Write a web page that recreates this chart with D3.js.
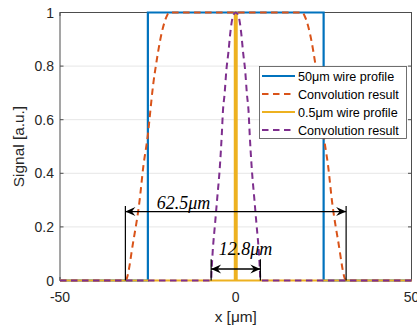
<!DOCTYPE html>
<html>
<head>
<meta charset="utf-8">
<script src="https://cdn.jsdelivr.net/npm/d3@7"></script>
<style>
  html, body { margin: 0; padding: 0; background: #fff; }
  svg { display: block; }
</style>
</head>
<body>
<svg id="chart" width="417" height="329"></svg>
<script>
// ---- data ----
const xTicks = [-50, 0, 50];
const yTicks = [0, 0.2, 0.4, 0.6, 0.8, 1];
const yTickLabels = ["0", "0.2", "0.4", "0.6", "0.8", "1"];
const xTickLabels = ["-50", "0", "50"];

const wire50X = [-50, -25, -25, 25, 25, 50];
const wire50Y = [0, 0, 1, 1, 0, 0];

const conv50X = [-50, -31.4, -29.1, -27.4, -26.3, -24.9, -24.4, -23.5, -22.5, -21.6, -19.5, -19.0,
                 19.0, 19.5, 21.6, 22.5, 23.5, 24.4, 24.9, 26.3, 27.4, 29.1, 31.4, 50];
const conv50Y = [0, 0, 0.15, 0.294, 0.425, 0.555, 0.62, 0.73, 0.82, 0.89, 0.99, 1,
                 1, 0.99, 0.89, 0.82, 0.73, 0.62, 0.555, 0.425, 0.294, 0.15, 0, 0];

const wire05X = [-50, -0.25, -0.25, 0.25, 0.25, 50];
const wire05Y = [0, 0, 1, 1, 0, 0];

const conv05X = [-50, -7.0, -6.9, -6.55, -5.9, -5.25, -4.6, -4.25, -3.95, -3.65, -3.15, -2.7, -2.1, -1.5, -0.7, 0,
                 0.7, 1.5, 2.1, 2.7, 3.15, 3.65, 3.95, 4.25, 4.6, 5.25, 5.9, 6.55, 6.9, 7.0, 50];
const conv05Y = [0, 0, 0.03, 0.11, 0.21, 0.31, 0.41, 0.48, 0.55, 0.63, 0.70, 0.78, 0.85, 0.93, 0.99, 1,
                 0.99, 0.93, 0.85, 0.78, 0.70, 0.63, 0.55, 0.48, 0.41, 0.31, 0.21, 0.11, 0.03, 0, 0];

const seriesNames = ["50\u03bcm wire profile", "Convolution result", "0.5\u03bcm wire profile", "Convolution result"];

// annotation arrows (data coords)
const wideArrowX = [-31.4, 31.4];
const wideArrowY = 0.257;
const wideBarTop = 0.278;
const wideLabel = "62.5\u03bcm";
const narrowArrowX = [-7.0, 7.0];
const narrowArrowY = 0.043;
const narrowBarTop = 0.079;
const narrowLabel = "12.8\u03bcm";

// ---- layout ----
const svg = d3.select("#chart");
const L = 60, R = 411.5, T = 12.5, B = 280.5;
const x = d3.scaleLinear().domain([-50, 50]).range([L, R]);
const y = d3.scaleLinear().domain([0, 1]).range([B, T]);
const txt = "#262626";
const sans = "'Liberation Sans', Arial, Helvetica, sans-serif";

// grid
const g = svg.append("g");
g.selectAll("line.gy").data(yTicks.slice(1, -1)).enter().append("line")
  .attr("x1", L).attr("x2", R).attr("y1", d => y(d)).attr("y2", d => y(d))
  .attr("stroke", "#e6e6e6").attr("stroke-width", 1);
g.selectAll("line.gx").data(xTicks.slice(1, -1)).enter().append("line")
  .attr("y1", T).attr("y2", B).attr("x1", d => x(d)).attr("x2", d => x(d))
  .attr("stroke", "#e6e6e6").attr("stroke-width", 1);

// axes box (behind data)
const ax = svg.append("g");
ax.append("rect").attr("x", L).attr("y", T).attr("width", R - L).attr("height", B - T)
  .attr("fill", "none").attr("stroke", "#4d4d4d").attr("stroke-width", 1);
yTicks.forEach(v => {
  ax.append("line").attr("x1", L).attr("x2", L + 3.5).attr("y1", y(v)).attr("y2", y(v)).attr("stroke", "#4d4d4d");
  ax.append("line").attr("x1", R).attr("x2", R - 3.5).attr("y1", y(v)).attr("y2", y(v)).attr("stroke", "#4d4d4d");
});
xTicks.forEach(v => {
  ax.append("line").attr("x1", x(v)).attr("x2", x(v)).attr("y1", B).attr("y2", B - 3.5).attr("stroke", "#4d4d4d");
  ax.append("line").attr("x1", x(v)).attr("x2", x(v)).attr("y1", T).attr("y2", T + 3.5).attr("stroke", "#4d4d4d");
});

// series
const lineLinear = d3.line().x(d => x(d[0])).y(d => y(d[1]));
const lineSmooth = d3.line().x(d => x(d[0])).y(d => y(d[1])).curve(d3.curveMonotoneX);
const zip = (a, b) => a.map((v, i) => [v, b[i]]);

const colors = ["#0072BD", "#D95319", "#EDB120", "#7E2F8E"];
const dashes = [null, "6.5,4.5", null, "6.5,4.5"];

const plot = svg.append("g");
plot.append("path").attr("d", lineLinear(zip(wire50X, wire50Y)))
  .attr("fill", "none").attr("stroke", colors[0]).attr("stroke-width", 2.2).attr("stroke-linejoin", "miter");
plot.append("path").attr("d", lineSmooth(zip(conv50X, conv50Y)))
  .attr("fill", "none").attr("stroke", colors[1]).attr("stroke-width", 2).attr("stroke-dasharray", dashes[1]);
plot.append("path").attr("d", lineLinear(zip(wire05X, wire05Y)))
  .attr("fill", "none").attr("stroke", colors[2]).attr("stroke-width", 2.2);
plot.append("path").attr("d", lineSmooth(zip(conv05X, conv05Y)))
  .attr("fill", "none").attr("stroke", colors[3]).attr("stroke-width", 2).attr("stroke-dasharray", dashes[3]);

// tick labels
ax.selectAll("text.yt").data(yTicks).enter().append("text")
  .attr("x", L - 6).attr("y", d => y(d)).attr("dy", "0.36em")
  .attr("text-anchor", "end").attr("font-family", sans).attr("font-size", 14).attr("fill", txt)
  .text((d, i) => yTickLabels[i]);
ax.selectAll("text.xt").data(xTicks).enter().append("text")
  .attr("x", d => x(d)).attr("y", 301.5)
  .attr("text-anchor", "middle").attr("font-family", sans).attr("font-size", 14).attr("fill", txt)
  .text((d, i) => xTickLabels[i]);

// axis titles
svg.append("text").attr("x", (L + R) / 2).attr("y", 321.5).attr("text-anchor", "middle")
  .attr("font-family", sans).attr("font-size", 15.4).attr("fill", txt).text("x [\u03bcm]");
svg.append("text").attr("transform", `translate(24,${(T + B) / 2}) rotate(-90)`).attr("text-anchor", "middle")
  .attr("font-family", sans).attr("font-size", 15.4).attr("fill", txt).text("Signal [a.u.]");

// annotations
const ann = svg.append("g");
const defs = svg.append("defs");
defs.append("marker").attr("id", "head").attr("viewBox", "-11 -6 12 12")
  .attr("refX", 0).attr("refY", 0).attr("markerWidth", 12).attr("markerHeight", 12)
  .attr("markerUnits", "userSpaceOnUse").attr("orient", "auto-start-reverse")
  .append("path").attr("d", "M0,0 L-10,-4.5 L-6.5,0 L-10,4.5 Z").attr("fill", "#000");

function dimension(xs, yArrow, yTop, label, labelX, labelY) {
  xs.forEach(v => {
    ann.append("line").attr("x1", x(v)).attr("x2", x(v)).attr("y1", y(0)).attr("y2", y(yTop))
      .attr("stroke", "#000").attr("stroke-width", 1.2);
  });
  ann.append("line").attr("x1", x(xs[0])).attr("x2", x(xs[1])).attr("y1", y(yArrow)).attr("y2", y(yArrow))
    .attr("stroke", "#000").attr("stroke-width", 1.4)
    .attr("marker-start", "url(#head)").attr("marker-end", "url(#head)");
  ann.append("text").attr("x", labelX).attr("y", labelY).attr("text-anchor", "middle")
    .attr("font-family", "'Liberation Serif', 'DejaVu Serif', serif").attr("font-style", "italic")
    .attr("font-size", 18).attr("fill", "#000").text(label);
}
dimension(wideArrowX, wideArrowY, wideBarTop, wideLabel, 183.5, 208.5);
dimension(narrowArrowX, narrowArrowY, narrowBarTop, narrowLabel, 245.5, 254.5);

// legend
const lg = svg.append("g");
const lx = 259.5, ly = 66.5, lw = 147, lh = 72;
lg.append("rect").attr("x", lx).attr("y", ly).attr("width", lw).attr("height", lh)
  .attr("fill", "#fff").attr("stroke", "#4d4d4d").attr("stroke-width", 0.8);
seriesNames.forEach((name, i) => {
  const yy = 76 + i * 18;
  lg.append("line").attr("x1", 262).attr("x2", 295).attr("y1", yy).attr("y2", yy)
    .attr("stroke", colors[i]).attr("stroke-width", 2).attr("stroke-dasharray", dashes[i]);
  lg.append("text").attr("x", 298).attr("y", yy).attr("dy", "0.36em")
    .attr("font-family", sans).attr("font-size", 12.6).attr("fill", "#000").text(name);
});
</script>
</body>
</html>
